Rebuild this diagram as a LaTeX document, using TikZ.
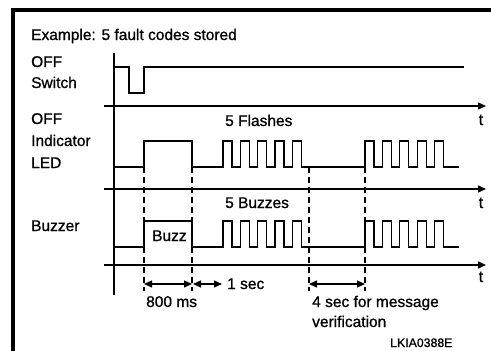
\documentclass[tikz,border=0pt]{standalone}
\usepackage{fontspec}
\setmainfont{Liberation Sans}[BoldFont=Liberation Sans, BoldFeatures={FakeBold=0.9}]
\usetikzlibrary{arrows.meta}
\begin{document}
\begin{tikzpicture}[x=1pt,y=-1pt,
  lbl/.style={anchor=base west, inner sep=0pt, font=\fontsize{15.5}{18}\selectfont\bfseries},
  tlbl/.style={anchor=base, inner sep=0pt, font=\fontsize{16}{18}\selectfont\bfseries},
  small/.style={anchor=base west, inner sep=0pt, font=\fontsize{12.3}{14}\selectfont\bfseries},
  sig/.style={line width=1.3pt, line join=miter},
  axisline/.style={line width=1.4pt},
  taxis/.style={axisline, -{Triangle[length=8pt,width=7pt]}},
  guide/.style={line width=1.1pt, dash pattern=on 6pt off 4pt},
  dimarrow/.style={line width=1.1pt, {Triangle[length=8pt,width=7pt]}-{Triangle[length=8pt,width=7pt]}},
  frame/.style={line width=3.5pt, line cap=rect},
]
\useasboundingbox (0,0) rectangle (491,351);
% frame
\coordinate (fb) at (13,352);
\coordinate (fc) at (13,10);
\coordinate (fr) at (492,10);
\draw[frame] (fb) -- (fc) -- (fr);

% texts
\node[lbl] (title) at (31,40) {Example: 5 fault codes stored};
\node[lbl] (sw1) at (31,67) {OFF};
\node[lbl] (sw2) at (31,88) {Switch};
\node[lbl] (led1) at (31,124) {OFF};
\node[lbl] (led2) at (31,146) {Indicator};
\node[lbl] (led3) at (31,168) {LED};
\node[lbl] (bz) at (31,231) {Buzzer};
\node[lbl] (fl) at (225,126) {5 Flashes};
\node[lbl] (bzs) at (225,208) {5 Buzzes};
\node[lbl] (buzz) at (152,241) {Buzz};
\node[tlbl] (t1) at (481,125) {t};
\node[tlbl] (t2) at (481,208) {t};
\node[tlbl] (t3) at (481,282) {t};
\node[lbl] (ms) at (146,307) {800 ms};
\node[lbl] (sec) at (227,289) {1 sec};
\node[lbl] (msg1) at (312,307) {4 sec for message};
\node[lbl] (msg2) at (312,327) {verification};
\node[small] (code) at (390,347) {LKIA0388E};

% axes
\coordinate (vt) at (114,53);
\coordinate (vb) at (114,295);
\draw[axisline] (vt) -- (vb);
\coordinate (a1s) at (104,106); \coordinate (a1e) at (486,106);
\coordinate (a2s) at (104,189); \coordinate (a2e) at (486,189);
\coordinate (a3s) at (104,265); \coordinate (a3e) at (486,265);
\draw[taxis] (a1s) -- (a1e);
\draw[taxis] (a2s) -- (a2e);
\draw[taxis] (a3s) -- (a3e);

% guides
\foreach \n/\gx in {g1/144,g2/192,g3/309,g4/365}{
  \coordinate (\n t) at (\gx,167);
  \coordinate (\n b) at (\gx,291);
  \draw[guide] (\n t) -- (\n b);
}

% switch signal
\draw[sig] (114,67) -- (129,67) -- (129,93) -- (144,93) -- (144,67) -- (464,67);

% LED signal
\draw[sig] (114,167) -- (144,167) -- (144,141) -- (192,141) -- (192,167) -- (223,167)
  foreach \k in {0,...,4}{ -- ({223+17.3*\k},167) -- ({223+17.3*\k},141) -- ({232+17.3*\k},141) -- ({232+17.3*\k},167)}
  -- (365,167)
  foreach \k in {0,...,4}{ -- ({365+17.4*\k},167) -- ({365+17.4*\k},141) -- ({374+17.4*\k},141) -- ({374+17.4*\k},167)}
  -- (459,167);

% Buzzer signal
\draw[sig] (114,247) -- (144,247) -- (144,221) -- (192,221) -- (192,247) -- (223,247)
  foreach \k in {0,...,4}{ -- ({223+17.3*\k},247) -- ({223+17.3*\k},221) -- ({232+17.3*\k},221) -- ({232+17.3*\k},247)}
  -- (365,247)
  foreach \k in {0,...,4}{ -- ({365+17.4*\k},247) -- ({365+17.4*\k},221) -- ({374+17.4*\k},221) -- ({374+17.4*\k},247)}
  -- (459,247);

% dimensions
\coordinate (d1a) at (144,284); \coordinate (d1b) at (192,284);
\coordinate (d2a) at (193,284); \coordinate (d2b) at (222,284);
\coordinate (d3a) at (309,284); \coordinate (d3b) at (365,284);
\draw[dimarrow] (d1a) -- (d1b);
\draw[dimarrow] (d2a) -- (d2b);
\draw[dimarrow] (d3a) -- (d3b);
\end{tikzpicture}
\end{document}
